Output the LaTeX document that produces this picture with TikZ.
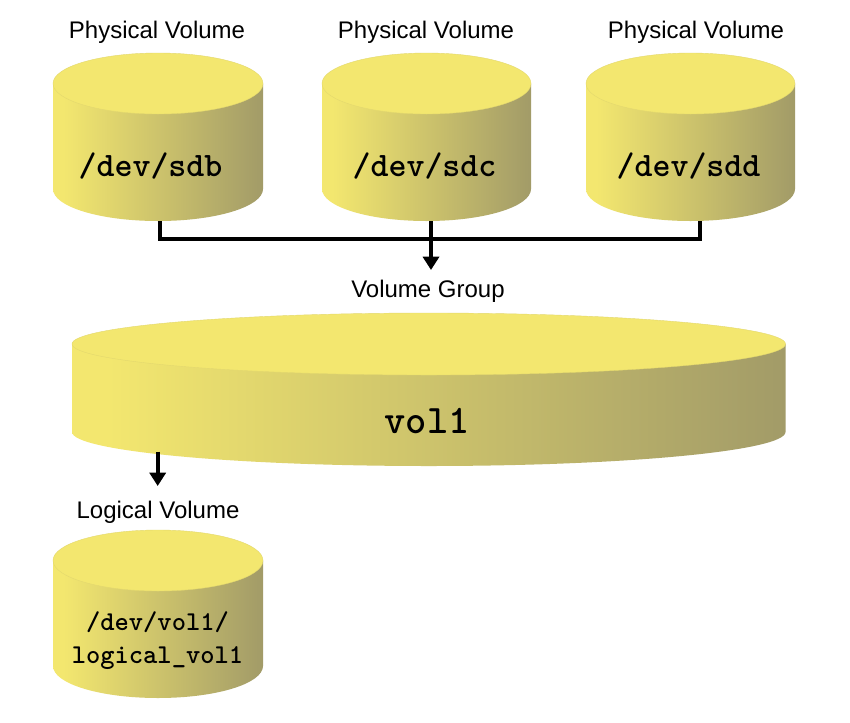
\documentclass[tikz,border=0pt]{standalone}
\usepackage{fontspec}
\setmainfont{Liberation Sans}
\usetikzlibrary{arrows.meta}
\definecolor{cylTop}{HTML}{F3E76F}
\definecolor{cylEnd}{HTML}{A29B68}
\definecolor{cylEdge}{HTML}{E3D86E}
\pgfdeclarehorizontalshading{cylshade}{100bp}{
  color(0bp)=(cylTop); color(25bp)=(cylTop); color(27.5bp)=(cylTop);
  color(75bp)=(cylEnd); color(100bp)=(cylEnd)}
\newcommand{\heavy}{\ttfamily\bfseries\addfontfeature{FakeBold=0.35}}
\tikzset{
  x=0.75pt, y=-0.75pt,
  label text/.style={font=\fontsize{18}{21}\selectfont, text=black, inner sep=0pt, anchor=center},
  mono big/.style={font=\fontsize{25.7}{30}\selectfont\heavy, text=black, inner sep=0pt},
  mono vol/.style={font=\fontsize{30.4}{34}\selectfont\heavy, text=black, inner sep=0pt},
  mono small/.style={font=\fontsize{20.4}{24.6}\selectfont\heavy, text=black, inner sep=0pt, align=center},
  connector/.style={line width=3pt, draw=black},
  arrowline/.style={line width=3pt, draw=black, -{Triangle[length=10pt,width=12pt]}},
  cylbody/.style={shading=cylshade, shading angle=0},
  cyltop/.style={fill=cylTop, draw=cylEdge, line width=0.3pt},
  box/.style={inner sep=0pt, outer sep=0pt, draw=none}
}
% #1 name, #2 left, #3 right, #4 top, #5 bottom, #6 top ry, #7 bottom ry
\newcommand{\cylshape}[7]{%
  \pgfmathsetmacro{\cx}{(#2+#3)/2}%
  \pgfmathsetmacro{\rxv}{(#3-#2)/2}%
  \pgfmathsetmacro{\cyt}{#4+#6}%
  \pgfmathsetmacro{\cyb}{#5-#7}%
  \path[cylbody] (#2,\cyt) -- (#2,\cyb) arc[start angle=180,end angle=360,x radius=\rxv*0.75pt,y radius=#7*0.75pt]
     -- (#3,\cyt) -- cycle;
  \path[cyltop] (\cx,\cyt) ellipse[x radius=\rxv*0.75pt,y radius=#6*0.75pt];
  \node[box, minimum width=(#3-#2)*0.75pt, minimum height=(#5-#4)*0.75pt] (#1) at (\cx,{(#4+#5)/2}) {};
}
\begin{document}
\begin{tikzpicture}
\useasboundingbox (0,0) rectangle (850,722);
\fill[white] (0,0) rectangle (850,722);

\cylshape{pva}{53}{263}{53}{221}{30.5}{32}
\cylshape{pvb}{322}{531}{53}{221}{30.5}{32}
\cylshape{pvc}{586}{795}{53}{221}{30.5}{32}
\cylshape{vg}{72}{785.5}{313}{466}{31}{34}
\cylshape{lv}{53}{263}{530}{698}{30.5}{32}

\coordinate (junctionA) at (160.3,239);
\coordinate (junctionC) at (700,239);
\coordinate (startA) at (160.3,221);
\coordinate (startB) at (431,221);
\coordinate (startC) at (700,221);
\coordinate (tipA) at (431,270);
\coordinate (startV) at (157.7,451.5);
\coordinate (tipV) at (157.7,486);

\draw[connector] (startA) -- (junctionA) -- (junctionC) -- (startC);
\draw[arrowline] (startB) -- (tipA);
\draw[arrowline] (startV) -- (tipV);

\node[label text] (la) at (157,32) {Physical Volume};
\node[label text] (lb) at (426,32) {Physical Volume};
\node[label text] (lc) at (696,32) {Physical Volume};
\node[label text] (lg) at (428,291) {Volume Group};
\node[label text] (ll) at (158,512) {Logical Volume};

\node[mono big] (ta) at (150.5,166) {/dev/sdb};
\node[mono big] (tb) at (424.5,166) {/dev/sdc};
\node[mono big] (tc) at (688.5,166) {/dev/sdd};
\node[mono vol] (tg) at (427,421) {vol1};
\node[mono small] (tl) at (157.5,641) {/dev/vol1/\\logical\_vol1};
\end{tikzpicture}
\end{document}
